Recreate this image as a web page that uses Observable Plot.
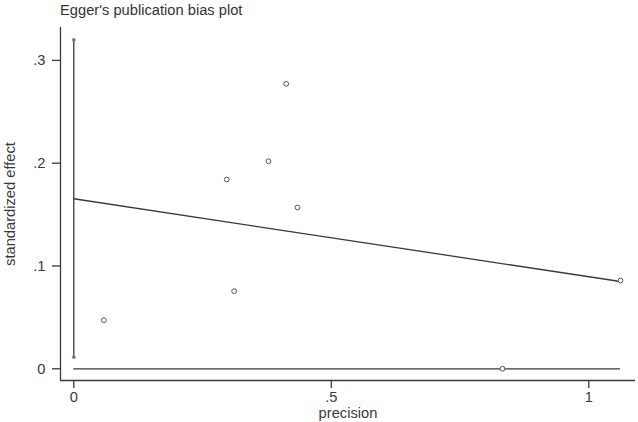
<!DOCTYPE html>
<html>
<head>
<meta charset="utf-8">
<script src="https://cdn.jsdelivr.net/npm/d3@7"></script>
<script src="https://cdn.jsdelivr.net/npm/@observablehq/plot@0.6"></script>
<style>
  html, body { margin: 0; padding: 0; background: #fff; }
  #title { font-family: "Liberation Sans", Arial, sans-serif; font-size: 14.7px; color: #333;
           height: 20px; line-height: 20px; padding-left: 60px; white-space: nowrap; }
  svg { display: block; }
</style>
</head>
<body>
<div id="title">Egger's publication bias plot</div>
<div id="chart"></div>
<script>
// Study data (precision vs standardized effect)
const precision = [0.0584, 0.297, 0.3114, 0.378, 0.4124, 0.4344, 0.8324, 1.0615];
const stdEffect = [0.0473, 0.1841, 0.0755, 0.2019, 0.2772, 0.1569, 0.0, 0.0859];
// Egger regression line (intercept at precision 0)
const fitX = [0, 1.0615];
const fitY = [0.1654, 0.0849];
// Confidence interval for the intercept
const ciLow = 0.0113;
const ciHigh = 0.320;
// Tick values and labels
const xTicks = [0, 0.5, 1];
const xTickLabels = ["0", ".5", "1"];
const yTicks = [0, 0.1, 0.2, 0.3];
const yTickLabels = ["0", ".1", ".2", ".3"];
const xDomain = [-0.0258, 1.0907];
const yDomain = [-0.0114, 0.332];

const points = precision.map((p, i) => ({p, e: stdEffect[i]}));
const fit = fitX.map((x, i) => ({x, y: fitY[i]}));
const maxP = d3.max(precision);
const ink = "#3a3a3a";
const font = "Liberation Sans, Arial, sans-serif";

const chart = Plot.plot({
  width: 638,
  height: 402,
  marginTop: 7,
  marginBottom: 42,
  marginLeft: 60,
  marginRight: 3,
  style: {fontFamily: font, fontSize: "14.7px", color: ink, background: "#fff"},
  x: {domain: xDomain},
  y: {domain: yDomain},
  marks: [
    Plot.ruleX([xDomain[0]], {stroke: ink, strokeWidth: 1.3}),
    Plot.ruleY([yDomain[0]], {stroke: ink, strokeWidth: 1.3}),
    Plot.axisX({ticks: xTicks, tickFormat: d => xTickLabels[xTicks.indexOf(d)], tickSize: 8, tickPadding: 3, label: null, stroke: ink, strokeWidth: 1.3, fill: ink}),
    Plot.axisY({ticks: yTicks, tickFormat: d => yTickLabels[yTicks.indexOf(d)], tickSize: 8, tickPadding: 7, label: null, stroke: ink, strokeWidth: 1.3, fill: ink}),
    Plot.text(["precision"], {frameAnchor: "bottom", dy: 33, lineAnchor: "middle", textAnchor: "middle", fill: ink, fontSize: 14.7}),
    Plot.text(["standardized effect"], {frameAnchor: "left", dx: -50, rotate: -90, textAnchor: "middle", lineAnchor: "middle", fill: ink, fontSize: 14.7}),
    Plot.ruleY([0], {x1: 0, x2: maxP, stroke: ink, strokeWidth: 1.3}),
    Plot.ruleX([0], {y1: ciLow, y2: ciHigh, stroke: ink, strokeWidth: 1.3}),
    Plot.dot([ciLow, ciHigh], {x: () => 0, y: d => d, r: 1.6, fill: "#777", stroke: "#777", strokeWidth: 0.5}),
    Plot.line(fit, {x: "x", y: "y", stroke: ink, strokeWidth: 1.3}),
    Plot.dot(points, {x: "p", y: "e", r: 2.4, stroke: "#555", fill: "#fff", strokeWidth: 1})
  ]
});
document.getElementById("chart").appendChild(chart);
</script>
</body>
</html>
